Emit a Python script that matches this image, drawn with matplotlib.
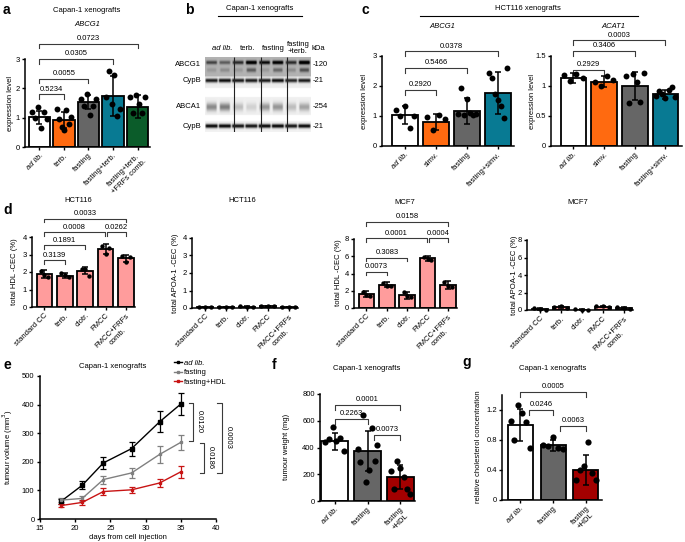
import numpy as np
import matplotlib.pyplot as plt
from matplotlib.lines import Line2D

plt.rcParams['font.family'] = ['Liberation Sans', 'DejaVu Sans']
plt.rcParams['font.size'] = 5.5
plt.rcParams['axes.linewidth'] = 1.1

# ---------------- data ----------------
# a  ABCG1, Capan-1 xenografts
a_labels = ['ad lib.', 'terb.', 'fasting', 'fasting+terb.', 'fasting+terb.\n+FRFs comb.']
a_mean = [1.02, 0.92, 1.52, 1.74, 1.38]
a_sd = [0.22, 0.28, 0.24, 0.68, 0.40]
a_pts = [[1.2, 1.0, 1.35, 0.65, 1.2, 0.97],
         [1.31, 0.97, 0.68, 0.59, 1.25, 0.8, 1.03],
         [1.62, 1.39, 1.82, 1.08, 1.39, 1.62],
         [1.72, 2.6, 1.45, 2.45, 1.05, 1.3],
         [1.71, 1.16, 1.77, 1.48, 1.16, 1.71]]
a_pairs = [(0, 1), (0, 2), (0, 3), (0, 4)]
a_p = ['0.5234', '0.0055', '0.0305', '0.0723']

# b  western blot band intensities (8 lanes)
b_groups = ['ad lib.', 'terb.', 'fasting', 'fasting\n+terb.']
b_abcg1 = [0.45, 0.35, 0.55, 0.85, 0.7, 0.8, 0.55, 0.9]
b_abcg1_low = [0.1, 0.15, 0.1, 0.35, 0.1, 0.3, 0.15, 0.4]
b_cypb1 = [0.85, 0.9, 0.85, 0.85, 0.85, 0.9, 0.8, 0.85]
b_abca1 = [0.4, 0.45, 0.2, 0.12, 0.35, 0.35, 0.2, 0.3]
b_cypb2 = [0.95, 0.95, 0.9, 0.9, 0.95, 0.95, 0.9, 0.95]

# c  HCT116 xenografts
c_labels = ['ad lib.', 'simv.', 'fasting', 'fasting+simv.']
c1_mean = [1.03, 0.81, 1.17, 1.77]
c1_sd = [0.30, 0.26, 0.43, 0.70]
c1_pts = [[1.2, 1.01, 1.34, 0.6, 1.01],
          [0.98, 0.52, 1.03, 0.9],
          [1.08, 1.94, 1.05, 1.57, 1.1, 1.02, 1.06],
          [2.45, 2.28, 1.75, 1.55, 1.35, 0.92, 2.6]]
c1_pairs = [(0, 1), (0, 2), (0, 3)]
c1_p = ['0.2920', '0.5466', '0.0378']
c2_mean = [1.13, 1.07, 1.0, 0.86]
c2_sd = [0.08, 0.09, 0.23, 0.07]
c2_pts = [[1.18, 1.08, 1.2, 1.14],
          [1.07, 1.0, 1.16, 1.1],
          [1.16, 0.72, 1.2, 1.07, 0.74, 1.22],
          [0.84, 0.92, 0.86, 0.8, 0.94, 0.99, 0.82]]
c2_pairs = [(0, 1), (0, 2), (0, 3)]
c2_p = ['0.2929', '0.3406', '0.0003']

# d  cholesterol efflux capacity
d_labels = ['standard CC', 'terb.', 'clotr.', 'FMCC', 'FMCC+FRFs\ncomb.']
d1_mean = [1.88, 1.78, 2.08, 3.32, 2.78]
d1_sd = [0.25, 0.15, 0.2, 0.27, 0.2]
d1_pts = [[2.05, 1.85, 1.7], [1.92, 1.82, 1.72], [2.2, 2.15, 1.8], [3.5, 3.05, 3.4], [2.9, 2.6, 2.85]]
d1_pairs = [(0, 1), (0, 2), (0, 2.95), (3.05, 4), (0, 4)]
d1_p = ['0.3139', '0.1891', '0.0008', '0.0262', '0.0033']
d2_mean = [0.05, 0.05, 0.08, 0.1, 0.05]
d2_sd = [0.02, 0.02, 0.02, 0.03, 0.02]
d2_pts = [[0.06, 0.05, 0.04], [0.07, 0.05, 0.04], [0.1, 0.08, 0.06], [0.12, 0.1, 0.09], [0.06, 0.05, 0.03]]
d3_mean = [1.65, 2.7, 1.5, 5.75, 2.65]
d3_sd = [0.35, 0.3, 0.4, 0.25, 0.5]
d3_pts = [[1.9, 1.55, 1.4], [2.95, 2.6, 2.55], [1.85, 1.35, 1.3], [5.95, 5.7, 5.6], [3.05, 2.5, 2.4]]
d3_pairs = [(0, 1), (0, 2), (0, 2.95), (3.05, 4), (0, 4)]
d3_p = ['0.0073', '0.3083', '0.0001', '0.0004', '0.0158']
d4_mean = [0.15, 0.3, 0.05, 0.4, 0.25]
d4_sd = [0.1, 0.12, 0.02, 0.1, 0.1]
d4_pts = [[0.25, 0.12, 0.05], [0.35, 0.48, 0.2], [0.06, 0.05, 0.04], [0.5, 0.45, 0.4], [0.35, 0.25, 0.15]]

# e  tumour growth
e_days = [18, 21, 24, 28, 32, 35]
e_adlib = [62, 118, 196, 246, 340, 402]
e_adlib_err = [8, 14, 20, 24, 36, 40]
e_fast = [66, 72, 138, 161, 226, 268]
e_fast_err = [7, 8, 14, 18, 30, 27]
e_hdl = [47, 58, 96, 102, 126, 165]
e_hdl_err = [5, 8, 11, 11, 15, 22]
e_p = ['0.0120', '0.0186', '0.0003']

# f  tumour weight
fg_labels = ['ad lib.', 'fasting', 'fasting\n+HDL']
f_mean = [445, 372, 178]
f_sd = [62, 150, 88]
f_pts = [[440, 460, 557, 445, 470, 375],
         [390, 295, 640, 140, 232, 548, 300, 415],
         [222, 92, 300, 248, 178, 88, 52]]
f_pairs = [(0, 1), (0, 2), (1.2, 2)]
f_p = ['0.2263', '0.0001', '0.0073']

# g  relative cholesterol
g_mean = [1.0, 0.73, 0.4]
g_sd = [0.21, 0.07, 0.2]
g_pts = [[1.05, 0.8, 1.27, 1.16, 1.04, 0.7],
         [0.73, 0.72, 0.84, 0.7, 0.68],
         [0.27, 0.4, 0.46, 0.78, 0.36, 0.27]]
g_pairs = [(0.25, 1), (1.2, 2), (0, 2)]
g_p = ['0.0246', '0.0063', '0.0005']

WHITE, ORANGE, GREY, TEAL, GREEN = 'white', '#FF6A10', '#666666', '#087A93', '#0B5C2A'
PINK, RED = '#FF9C9C', '#A30000'

# ---------------- figure ----------------
W, H = 685, 542
fig = plt.figure(figsize=(W / 100, H / 100), dpi=100)


def px_axes(l, r, t, b):
    return fig.add_axes([l / W, 1 - b / H, (r - l) / W, (b - t) / H])


def ftext(x, y, s, **kw):
    fig.text(x / W, 1 - y / H, s, **kw)


def bars(ax, labels, mean, sd, pts, colors, width, spread, dot, xlim, ylim, yticks, ytl):
    x = np.arange(len(mean))
    ax.bar(x, mean, width=width, color=colors, edgecolor='black', linewidth=1.3, zorder=2)
    ax.errorbar(x, mean, yerr=sd, fmt='none', ecolor='black', elinewidth=1.1,
                capsize=2.5, capthick=1.1, zorder=3)
    for i, v in enumerate(pts):
        off = np.linspace(-spread, spread, len(v))
        ax.scatter(x[i] + off, v, s=dot, color='black', zorder=4, clip_on=False, linewidths=0)
    ax.set_xlim(*xlim)
    ax.set_ylim(*ylim)
    ax.set_yticks(yticks)
    ax.set_yticklabels(ytl)
    ax.set_xticks(x)
    ax.set_xticklabels(labels, rotation=45, ha='right', va='top', rotation_mode='anchor',
                       multialignment='center')
    if labels[0] == 'ad lib.':
        ax.get_xticklabels()[0].set_style('italic')
    for s in ('top', 'right'):
        ax.spines[s].set_visible(False)
    ax.tick_params(length=2.5, width=1.0, pad=1.2, labelsize=5.5)


def bracket(ax, pair, y, h, label):
    x1, x2 = pair
    ax.plot([x1, x1, x2, x2], [y - h, y, y, y - h], color='#3a3a3a', lw=0.8, clip_on=False)
    ax.text((x1 + x2) / 2, y + h * 0.35, label, ha='center', va='bottom', fontsize=5.5)


# ---- a ----
ax = px_axes(25, 150, 59, 147)
bars(ax, a_labels, a_mean, a_sd, a_pts, [WHITE, ORANGE, GREY, TEAL, GREEN], 0.86, 0.3, 18,
     (-0.59, 4.51), (0, 3), [0, 1, 2, 3], ['0', '1', '2', '3'])
for pr, yy, p in zip(a_pairs, [1.8, 2.33, 3.0, 3.52], a_p):
    bracket(ax, pr, yy, 0.16, p)
ftext(3, 10, 'a', fontsize=10, fontweight='bold', va='center')
ftext(87, 10, 'Capan-1 xenografts', ha='center', va='center')
ftext(87, 25, 'ABCG1', ha='center', va='center', style='italic')
ftext(11, 103, 'expression level', rotation=90, ha='center', va='center')

# ---- b ----
ax = px_axes(205, 311, 57, 132)
ss = 4
rows, cols = 75 * ss, 106 * ss
yy = (np.arange(rows) + 0.5) / ss
xx = (np.arange(cols) + 0.5) / ss
lane_w = 106 / len(b_abcg1)
img = np.zeros((rows, cols))
for r0, r1, bg in [(0, 19.5, 0.30), (19.5, 31, 0.07), (40, 58, 0.06), (64, 75, 0.05)]:
    img[(yy >= r0) & (yy < r1), :] = bg


def add_band(vals, yc, sig, wfrac):
    for i, v in enumerate(vals):
        c = (i + 0.5) * lane_w
        prof = np.clip((lane_w * wfrac - np.abs(xx - c)) / 1.5 + 0.5, 0, 1)
        g = np.exp(-0.5 * ((yy - yc) / sig) ** 2)
        img[:, :] += v * np.outer(g, prof)


add_band(b_abcg1, 5.5, 1.3, 0.4)
add_band(b_abcg1_low, 13, 1.5, 0.35)
add_band(b_cypb1, 23.5, 1.4, 0.45)
add_band(b_abca1, 50, 2.8, 0.38)
add_band(b_cypb2, 69, 1.4, 0.45)
ax.imshow(np.clip(img, 0, 1), cmap='gray_r', vmin=0, vmax=1, extent=(205, 311, 132, 57),
          aspect='auto', interpolation='bilinear')
ax.vlines([234, 261, 287], 57, 132, color='#222222', lw=0.8)
ax.set_xlim(205, 311)
ax.set_ylim(132, 57)
ax.axis('off')
ftext(185, 10, 'b', fontsize=10, fontweight='bold', va='center')
ftext(260, 9, 'Capan-1 xenografts', ha='center', va='center')
fig.add_artist(Line2D([218 / W, 302 / W], [1 - 16 / H, 1 - 16 / H], color='black', lw=0.8))
for gx, g in zip([222, 248, 273, 298], b_groups):
    ftext(gx, 49 if '\n' not in g else 48, g, ha='center', va='center',
          style='italic' if g == 'ad lib.' else 'normal', linespacing=1.0)
ftext(318, 49, 'kDa', ha='center', va='center')
for yv, lab, kd in [(64, 'ABCG1', '-120'), (81, 'CypB', '-21'), (107, 'ABCA1', '-254'), (126, 'CypB', '-21')]:
    ftext(201, yv, lab, ha='right', va='center')
    ftext(313, yv, kd, ha='left', va='center')

# ---- c ----
ax = px_axes(382, 514, 56, 146)
bars(ax, c_labels, c1_mean, c1_sd, c1_pts, [WHITE, ORANGE, GREY, TEAL], 0.82, 0.3, 18,
     (-0.74, 3.52), (0, 3), [0, 1, 2, 3], ['0', '1', '2', '3'])
for pr, yv, p in zip(c1_pairs, [1.87, 2.6, 3.16], c1_p):
    bracket(ax, pr, yv, 0.16, p)
ax = px_axes(551, 682, 56, 146)
bars(ax, c_labels, c2_mean, c2_sd, c2_pts, [WHITE, ORANGE, GREY, TEAL], 0.84, 0.3, 18,
     (-0.73, 3.54), (0, 1.5), [0, 0.5, 1, 1.5], ['0', '0.5', '1', '1.5'])
for pr, yv, p in zip(c2_pairs, [1.27, 1.585, 1.76], c2_p):
    bracket(ax, pr, yv, 0.08, p)
ftext(362, 10, 'c', fontsize=10, fontweight='bold', va='center')
ftext(528, 9, 'HCT116 xenografts', ha='center', va='center')
fig.add_artist(Line2D([420 / W, 638 / W], [1 - 16 / H, 1 - 16 / H], color='black', lw=0.8))
ftext(442, 26, 'ABCG1', ha='center', va='center', style='italic')
ftext(613, 26, 'ACAT1', ha='center', va='center', style='italic')
ftext(365, 101, 'expression level', rotation=90, ha='center', va='center')
ftext(532, 101, 'expression level', rotation=90, ha='center', va='center')

# ---- d ----
dx = (-0.61, 4.44)
ax = px_axes(32, 135, 237, 307)
bars(ax, d_labels, d1_mean, d1_sd, d1_pts, PINK, 0.77, 0.18, 10, dx,
     (0, 4), [0, 1, 2, 3, 4], ['0', '1', '2', '3', '4'])
for pr, yv, p in zip(d1_pairs, [2.67, 3.52, 4.29, 4.29, 5.05], d1_p):
    bracket(ax, pr, yv, 0.22, p)
ax = px_axes(192, 298, 238, 308)
bars(ax, d_labels, d2_mean, d2_sd, d2_pts, PINK, 0.77, 0.3, 10, dx,
     (0, 4), [0, 1, 2, 3, 4], ['0', '1', '2', '3', '4'])
ax = px_axes(354, 457, 239, 308)
bars(ax, d_labels, d3_mean, d3_sd, d3_pts, PINK, 0.77, 0.18, 10, dx,
     (0, 8), [0, 2, 4, 6, 8], ['0', '2', '4', '6', '8'])
for pr, yv, p in zip(d3_pairs, [4.23, 5.85, 8.1, 8.1, 10.0], d3_p):
    bracket(ax, pr, yv, 0.45, p)
ax = px_axes(527, 633, 240, 310)
bars(ax, d_labels, d4_mean, d4_sd, d4_pts, PINK, 0.77, 0.3, 10, dx,
     (0, 8), [0, 2, 4, 6, 8], ['0', '2', '4', '6', '8'])
ftext(3, 210, 'd', fontsize=10, fontweight='bold', va='center')
ftext(78, 201, 'HCT116', ha='center', va='center')
ftext(242, 201, 'HCT116', ha='center', va='center')
ftext(405, 203, 'MCF7', ha='center', va='center')
ftext(578, 203, 'MCF7', ha='center', va='center')
ftext(15, 272, 'total HDL -CEC (%)', rotation=90, ha='center', va='center')
ftext(175, 273, 'total APOA-1 -CEC (%)', rotation=90, ha='center', va='center')
ftext(338, 273, 'total HDL -CEC (%)', rotation=90, ha='center', va='center')
ftext(514, 275, 'total APOA-1 -CEC (%)', rotation=90, ha='center', va='center')

# ---- e ----
ax = px_axes(40, 216, 376, 519)
ax.errorbar(e_days, e_adlib, yerr=e_adlib_err, color='black', lw=1.0, marker='s', ms=2.2,
            capsize=2, elinewidth=0.9, capthick=0.9)
ax.errorbar(e_days, e_fast, yerr=e_fast_err, color='#808080', lw=1.0, marker='s', ms=2.0,
            capsize=2, elinewidth=0.9, capthick=0.9)
ax.errorbar(e_days, e_hdl, yerr=e_hdl_err, color='#C81414', lw=1.0, marker='s', ms=2.0,
            capsize=2, elinewidth=0.9, capthick=0.9)
ax.set_xlim(15, 40)
ax.set_ylim(0, 500)
ax.set_xticks([15, 20, 25, 30, 35, 40])
ax.set_yticks([0, 100, 200, 300, 400, 500])
for s in ('top', 'right'):
    ax.spines[s].set_visible(False)
ax.tick_params(length=2.5, width=1.0, pad=1.5, labelsize=5.5)
ax.set_xlabel('days from cell injection', fontsize=5.5, labelpad=2)
handles = [Line2D([], [], color=c, lw=1.0, marker='s', ms=2) for c in ['black', '#808080', '#C81414']]
leg = ax.legend(handles, ['ad lib.', 'fasting', 'fasting+HDL'], loc='upper left',
                bbox_to_anchor=(0.74, 1.14), frameon=False, handlelength=1.0, borderpad=0,
                labelspacing=0.25, handletextpad=0.3, fontsize=5.5)
leg.get_texts()[0].set_style('italic')
for (x1, xl, lo, hi), p in zip([(36.1, 36.7, 273, 407), (37.7, 38.3, 162, 267),
                                (40.2, 40.8, 162, 407)], e_p):
    ax.plot([x1, xl, xl, x1], [hi, hi, lo, lo], color='#3a3a3a', lw=0.8, clip_on=False)
    ax.text(xl + 0.9, (lo + hi) / 2, p, rotation=-90, ha='center', va='center', fontsize=5.5)
ftext(3, 365, 'e', fontsize=10, fontweight='bold', va='center')
ftext(113, 367, 'Capan-1 xenografts', ha='center', va='center')
ftext(8, 447, 'tumour volume (mm$^3$)', rotation=90, ha='center', va='center')

# ---- f ----
ax = px_axes(320, 415, 394, 501)
bars(ax, fg_labels, f_mean, f_sd, f_pts, [WHITE, GREY, RED], 0.79, 0.3, 20,
     (-0.44, 2.44), (0, 800), [0, 200, 400, 600, 800], ['0', '200', '400', '600', '800'])
for pr, yv, p in zip(f_pairs, [612, 720, 495], f_p):
    bracket(ax, pr, yv, 40, p)
ftext(272, 365, 'f', fontsize=10, fontweight='bold', va='center')
ftext(367, 368, 'Capan-1 xenografts', ha='center', va='center')
ftext(287, 447, 'tumour weight (mg)', rotation=90, ha='center', va='center')

# ---- g ----
ax = px_axes(502, 602, 395, 500)
bars(ax, fg_labels, g_mean, g_sd, g_pts, [WHITE, GREY, RED], 0.76, 0.3, 20,
     (-0.56, 2.49), (0, 1.4), [0, 0.4, 0.8, 1.2], ['0', '0.4', '0.8', '1.2'])
for pr, yv, p in zip(g_pairs, [1.2, 0.99, 1.44], g_p):
    bracket(ax, pr, yv, 0.07, p)
ftext(462, 362, 'g', fontsize=10, fontweight='bold', va='center')
ftext(553, 368, 'Capan-1 xenografts', ha='center', va='center')
ftext(479, 447, 'relative cholesterol concentration', rotation=90, ha='center', va='center')

fig.savefig('out.png', dpi=100, facecolor='white')
